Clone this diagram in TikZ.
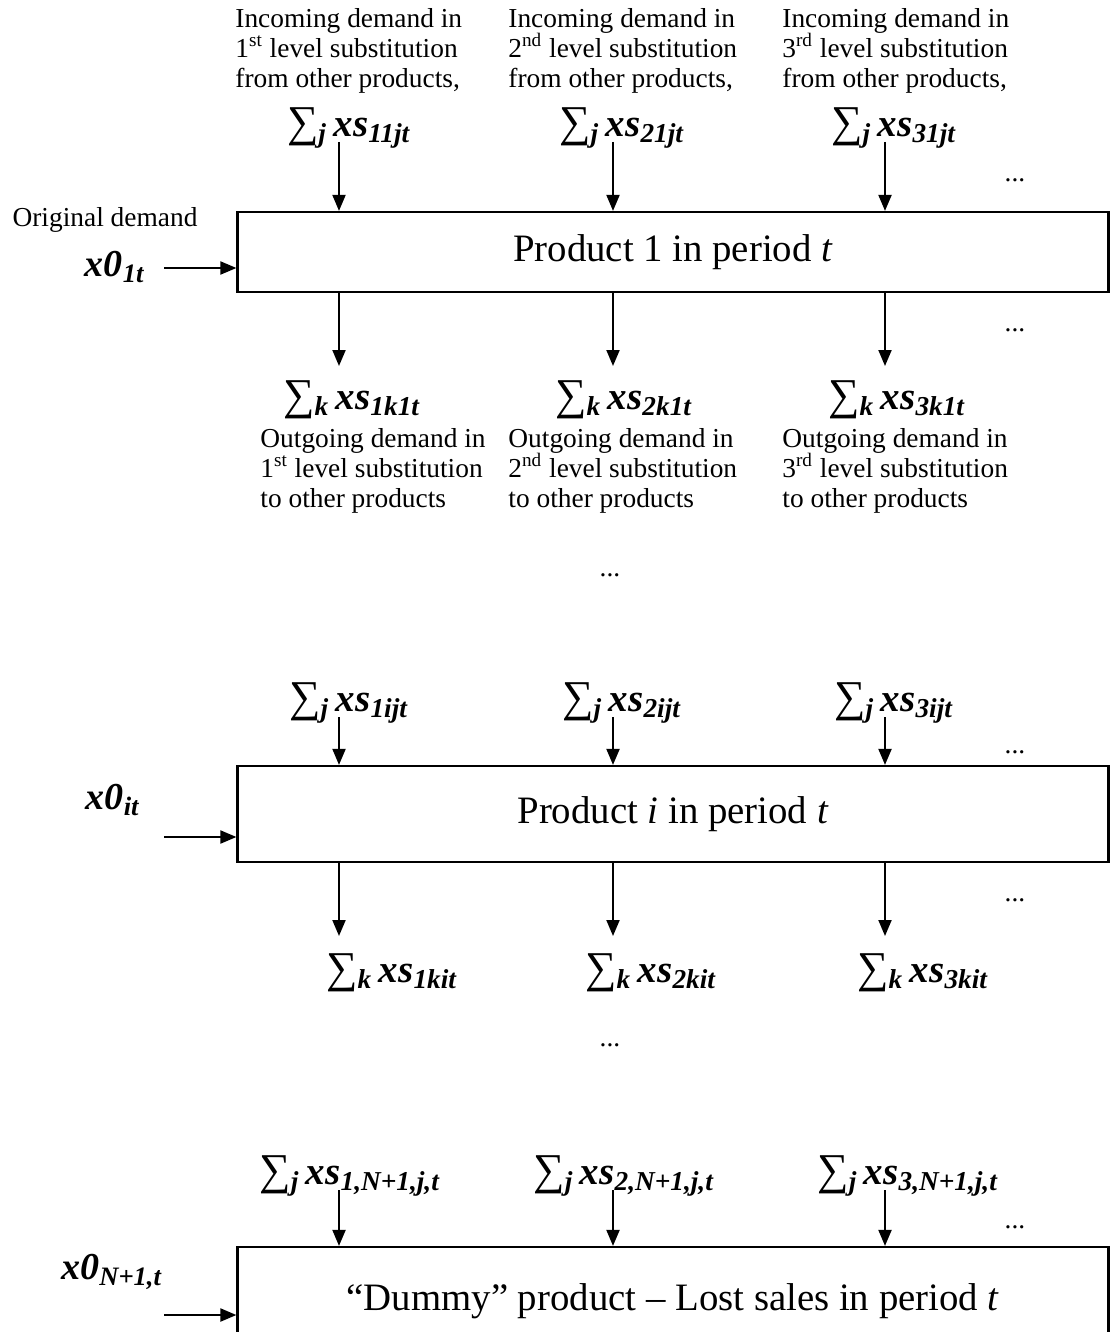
\documentclass[tikz,border=0pt]{standalone}
\usepackage{fontspec}
\setmainfont{Liberation Serif}
\usetikzlibrary{arrows.meta,positioning}

\newcommand{\bi}[1]{\textbf{\textit{#1}}}
\newcommand{\sumlbl}[3]{{\fontsize{22}{22}\selectfont ∑}\textsubscript{\bi{#1}}\,\bi{#2}\textsubscript{\bi{#3}}}

\begin{document}
\begin{tikzpicture}[x=0.5pt, y=-0.5pt,
    prodbox/.style={draw, rectangle, line width=1.1pt, minimum width=435.5pt, inner sep=0pt, font=\fontsize{19.4}{22}\selectfont},
    note/.style={anchor=north west, align=left, inner sep=0pt, font=\fontsize{13.7}{15}\selectfont},
    sumnode/.style={inner sep=0pt, font=\fontsize{19.5}{22}\selectfont},
    xnode/.style={inner sep=0pt, font=\fontsize{19}{22}\selectfont},
    dots/.style={inner sep=0pt, font=\fontsize{13.7}{15}\selectfont},
    flow/.style={line width=1pt, -{Triangle[length=8pt, width=6.5pt]}}]
    \clip (0,0) rectangle (1110,1332);

    % Product 1
    \node[prodbox, minimum height=40pt] (box1) at (673,252) {Product 1 in period \textit{t}};
    \node[note] (inc1) at (235,8) {Incoming demand in\\1\textsuperscript{st} level substitution\\from other products,};
    \node[note] (inc2) at (508,8) {Incoming demand in\\2\textsuperscript{nd} level substitution\\from other products,};
    \node[note] (inc3) at (782,8) {Incoming demand in\\3\textsuperscript{rd} level substitution\\from other products,};
    \node[sumnode] (in11) at (349,128) {\sumlbl{j}{xs}{11jt}};
    \node[sumnode] (in12) at (622,128) {\sumlbl{j}{xs}{21jt}};
    \node[sumnode] (in13) at (894,128) {\sumlbl{j}{xs}{31jt}};
    \node[note, anchor=center] (orig1) at (105,220) {Original demand};
    \node[xnode] (x01) at (115,267) {\bi{x0}\textsubscript{\bi{1t}}};
    \node[sumnode] (out11) at (352,400) {\sumlbl{k}{xs}{1k1t}};
    \node[sumnode] (out12) at (624,400) {\sumlbl{k}{xs}{2k1t}};
    \node[sumnode] (out13) at (897,400) {\sumlbl{k}{xs}{3k1t}};
    \node[note] (outg1) at (260,428) {Outgoing demand in\\1\textsuperscript{st} level substitution\\to other products};
    \node[note] (outg2) at (508,428) {Outgoing demand in\\2\textsuperscript{nd} level substitution\\to other products};
    \node[note] (outg3) at (782,428) {Outgoing demand in\\3\textsuperscript{rd} level substitution\\to other products};
    \node[dots] (d1a) at (1015,180) {...};
    \node[dots] (d1b) at (1015,330) {...};

    \coordinate (a11) at (339,142);
    \coordinate (a12) at (613,142);
    \coordinate (a13) at (885,142);
    \coordinate (b11) at (339,366);
    \coordinate (b12) at (613,366);
    \coordinate (b13) at (885,366);
    \coordinate (l1) at (164,268);
    \draw[flow] (a11) -- (a11 |- box1.north);
    \draw[flow] (a12) -- (a12 |- box1.north);
    \draw[flow] (a13) -- (a13 |- box1.north);
    \draw[flow] (b11 |- box1.south) -- (b11);
    \draw[flow] (b12 |- box1.south) -- (b12);
    \draw[flow] (b13 |- box1.south) -- (b13);
    \draw[flow] (l1) -- (l1 -| box1.west);

    \node[dots] (mid1) at (610,575) {...};

    % Product i
    \node[prodbox, minimum height=48pt] (box2) at (673,814) {Product \textit{i} in period \textit{t}};
    \node[sumnode] (in21) at (349,703) {\sumlbl{j}{xs}{1ijt}};
    \node[sumnode] (in22) at (622,703) {\sumlbl{j}{xs}{2ijt}};
    \node[sumnode] (in23) at (894,703) {\sumlbl{j}{xs}{3ijt}};
    \node[xnode] (x02) at (113,800) {\bi{x0}\textsubscript{\bi{it}}};
    \node[sumnode] (out21) at (392,973) {\sumlbl{k}{xs}{1kit}};
    \node[sumnode] (out22) at (651,973) {\sumlbl{k}{xs}{2kit}};
    \node[sumnode] (out23) at (923,973) {\sumlbl{k}{xs}{3kit}};
    \node[dots] (d2a) at (1015,752) {...};
    \node[dots] (d2b) at (1015,900) {...};

    \coordinate (a21) at (339,717);
    \coordinate (a22) at (613,717);
    \coordinate (a23) at (885,717);
    \coordinate (b21) at (339,936);
    \coordinate (b22) at (613,936);
    \coordinate (b23) at (885,936);
    \coordinate (l2) at (164,837);
    \draw[flow] (a21) -- (a21 |- box2.north);
    \draw[flow] (a22) -- (a22 |- box2.north);
    \draw[flow] (a23) -- (a23 |- box2.north);
    \draw[flow] (b21 |- box2.south) -- (b21);
    \draw[flow] (b22 |- box2.south) -- (b22);
    \draw[flow] (b23 |- box2.south) -- (b23);
    \draw[flow] (l2) -- (l2 -| box2.west);

    \node[dots] (mid2) at (610,1045) {...};

    % Dummy product
    \node[prodbox, minimum height=54pt] (box3) at (673,1301) {``Dummy'' product -- Lost sales in period \textit{t}};
    \node[sumnode] (in31) at (350,1176) {\sumlbl{j}{xs}{1,N+1,j,t}};
    \node[sumnode] (in32) at (624,1176) {\sumlbl{j}{xs}{2,N+1,j,t}};
    \node[sumnode] (in33) at (908,1176) {\sumlbl{j}{xs}{3,N+1,j,t}};
    \node[xnode] (x03) at (112,1272) {\bi{x0}\textsubscript{\bi{N+1,t}}};
    \node[dots] (d3a) at (1015,1227) {...};

    \coordinate (a31) at (339,1190);
    \coordinate (a32) at (613,1190);
    \coordinate (a33) at (885,1190);
    \coordinate (l3) at (164,1315);
    \draw[flow] (a31) -- (a31 |- box3.north);
    \draw[flow] (a32) -- (a32 |- box3.north);
    \draw[flow] (a33) -- (a33 |- box3.north);
    \draw[flow] (l3) -- (l3 -| box3.west);
\end{tikzpicture}
\end{document}
